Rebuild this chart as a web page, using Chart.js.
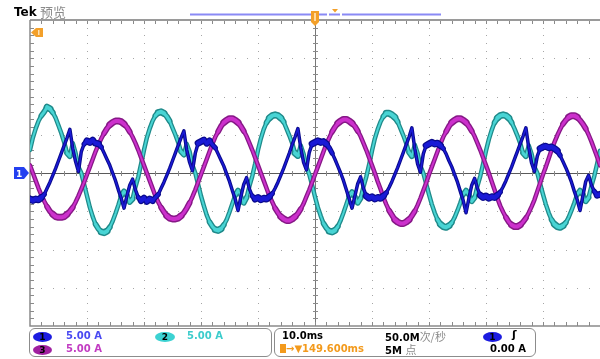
<!DOCTYPE html>
<html>
<head>
<meta charset="utf-8">
<script src="https://cdn.jsdelivr.net/npm/chart.js@4.4.1/dist/chart.umd.min.js"></script>
<style>
  html, body { margin: 0; padding: 0; background: #fff; }
  #wrap { position: relative; width: 600px; height: 359px; overflow: hidden; background: #fff; }
  #scope { position: absolute; left: 0; top: 0; }
  .t { position: absolute; white-space: nowrap; font: bold 10px 'DejaVu Sans', sans-serif; line-height: 12px; color: #000; }
  .cjk { font-family: 'Noto Sans CJK SC', sans-serif; font-weight: normal; color: #8a8a8a; font-size: 11px; }
  .box { position: absolute; box-sizing: border-box; border: 1px solid #8c8c8c; border-radius: 6px; }
  .badge { position: absolute; border-radius: 50%; text-align: center; font: bold 9px 'DejaVu Sans', sans-serif; line-height: 10px; color: #000; }
</style>
</head>
<body>
<div id="wrap">
  <canvas id="scope" width="600" height="359"></canvas>

  <div class="t" style="left:14px;top:5px;font-size:12px;line-height:14px">Tek</div>
  <div class="t cjk" style="left:40px;top:4px;font-size:13px;line-height:16px">预览</div>

  <div class="t" style="left:16px;top:169px;color:#fff;font-size:9px;line-height:10px">1</div>

  <!-- readout panel -->
  <div class="box" style="left:29px;top:328px;width:243px;height:29px"></div>
  <div class="box" style="left:274px;top:328px;width:262px;height:29px"></div>

  <div class="badge" style="left:33px;top:332px;width:19px;height:10px;background:#1c1ce0">1</div>
  <div class="t" style="left:66px;top:330px;color:#4a4af2">5.00 A</div>
  <div class="badge" style="left:155px;top:332px;width:20px;height:10px;background:#3cd2d2">2</div>
  <div class="t" style="left:187px;top:330px;color:#3ccccc">5.00 A</div>
  <div class="badge" style="left:33px;top:345px;width:19px;height:10px;background:#a020a0">3</div>
  <div class="t" style="left:66px;top:343px;color:#c23cc2">5.00 A</div>

  <div class="t" style="left:282px;top:330px">10.0ms</div>
  <div class="t" style="left:385px;top:330px">50.0M<span class="cjk">次/秒</span></div>
  <div class="badge" style="left:483px;top:332px;width:19px;height:10px;background:#1c1ce0">1</div>
  <div class="t" style="left:512px;top:329px;font-size:11px">ʃ</div>

  <div class="t" style="left:280px;top:343px;color:#f39a1c"><span style="display:inline-block;width:6px;height:9px;background:#f39a1c;vertical-align:-1px"></span>→▼149.600ms</div>
  <div class="t" style="left:385px;top:343px">5M <span class="cjk">点</span></div>
  <div class="t" style="left:490px;top:343px">0.00 A</div>
</div>

<script>
// sample spacing of the captured record (ms); 10 ms per division, 10 divisions
const stepMs = 0.5;
const divTimes = [0, 10, 20, 30, 40, 50, 60, 70, 80, 90, 100];
const divAmps = [-20, -15, -10, -5, 0, 5, 10, 15, 20];

// channel 1 (blue), amps
const ch1 = [
  -3.4,-3.6,-3.4,-3.5,-3.2,-2.8,-2.0,-1.2,-0.3,0.6,1.6,2.6,3.6,4.6,
  5.7,3.2,1.5,0.2,2.8,3.8,4.2,4.0,4.3,3.9,3.8,3.4,2.6,1.8,1.0,0.0,-1.0,-2.2,-3.3,-4.6,-3.0,-1.6,-0.8,-2.2,-3.2,-3.6,-3.3,-3.7,-3.4,-3.6,-3.2,-2.8,-2.0,-1.2,-0.3,0.6,1.6,2.6,3.6,4.6,
  5.5,3.0,1.4,0.3,2.6,3.9,4.1,4.3,3.9,4.2,3.7,3.3,2.5,1.7,0.9,-0.1,-1.1,-2.3,-3.4,-4.9,-3.1,-1.5,-0.6,-2.1,-3.0,-3.4,-3.2,-3.5,-3.3,-3.4,-3.1,-2.7,-2.0,-1.2,-0.3,0.6,1.6,2.6,3.7,4.7,
  5.8,3.3,1.4,0.4,2.7,3.8,4.0,4.2,4.0,4.1,3.8,3.3,2.6,1.8,0.9,0.0,-1.0,-2.2,-3.4,-4.6,-3.0,-1.4,-0.5,-2.0,-3.0,-3.3,-3.1,-3.4,-3.2,-3.3,-3.0,-2.6,-1.9,-1.1,-0.2,0.7,1.7,2.7,3.7,4.7,
  5.9,3.2,1.2,0.1,2.5,3.6,3.8,4.0,3.8,3.9,3.6,3.2,2.5,1.6,0.8,-0.2,-1.2,-2.4,-3.6,-5.2,-3.3,-1.6,-0.7,-2.0,-2.9,-3.2,-3.0,-3.3,-3.1,-3.2,-2.9,-2.5,-1.8,-1.0,-0.1,0.8,1.8,2.8,3.8,4.8,
  5.9,3.3,1.3,0.2,2.2,3.2,3.4,3.5,3.3,3.4,3.2,2.9,2.3,1.5,0.7,-0.2,-1.2,-2.4,-3.5,-4.9,-3.0,-1.1,-0.3,-1.6,-2.4,-2.9,-2.8
];

// channel 2 (cyan), amps
const ch2 = [
  3.0,4.6,5.8,6.8,7.5,8.0,
  8.6,8.4,7.9,7.2,6.2,5.2,4.0,2.6,2.2,3.9,2.6,0.8,0.0,-1.5,-3.0,-4.5,-5.7,-6.7,-7.3,-7.7,-7.8,-7.6,-7.1,-6.3,-5.3,-4.2,-3.0,-2.4,-2.9,-3.8,-3.4,-1.8,-0.5,1.2,3.0,4.6,5.8,6.8,7.5,7.9,
  8.0,7.8,7.4,6.8,5.9,5.0,4.0,2.8,2.4,3.8,2.8,1.0,0.0,-1.5,-3.0,-4.3,-5.5,-6.4,-7.0,-7.4,-7.5,-7.3,-6.8,-6.1,-5.1,-4.0,-2.9,-2.3,-3.0,-3.9,-3.2,-1.7,-0.4,1.2,3.0,4.5,5.7,6.6,7.2,7.5,
  7.6,7.5,7.2,6.7,5.8,4.9,3.9,2.6,2.3,3.6,2.5,0.8,-0.2,-1.6,-3.1,-4.5,-5.6,-6.6,-7.2,-7.6,-7.7,-7.5,-7.0,-6.2,-5.2,-4.1,-3.0,-2.5,-3.1,-3.9,-3.3,-1.8,-0.5,1.1,2.9,4.5,5.7,6.7,7.4,7.8,
  7.8,7.6,7.3,6.7,5.8,4.9,3.9,2.7,2.2,3.7,2.6,0.9,0.0,-1.4,-2.8,-4.1,-5.2,-6.1,-6.7,-7.0,-7.1,-6.9,-6.5,-5.8,-4.9,-3.9,-2.8,-2.3,-2.8,-3.7,-3.2,-1.7,-0.4,1.2,2.9,4.4,5.6,6.6,7.2,7.5,
  7.6,7.5,7.2,6.6,5.8,4.9,3.9,2.6,2.2,3.6,2.5,0.8,0.0,-1.4,-2.8,-4.1,-5.2,-6.1,-6.7,-7.0,-7.1,-6.9,-6.5,-5.8,-4.9,-3.9,-2.8,-2.3,-2.8,-3.7,-3.2,-1.7,-0.4,1.2,2.9
];

// channel 3 (magenta), amps
const ch3 = [
  1.0,0.0,-1.0,-2.0,-2.9,-3.7,-4.4,-5.0,-5.4,-5.7,-5.8,-5.8,-5.7,-5.4,-5.0,-4.5,-3.8,-3.0,-2.1,-1.2,-0.2,0.8,1.8,2.8,3.7,4.5,5.2,5.8,6.3,6.6,6.8,6.8,6.7,6.4,6.0,5.4,4.7,3.9,3.0,2.0,
  1.0,0.0,-1.0,-2.0,-3.0,-3.8,-4.5,-5.1,-5.6,-5.9,-6.0,-6.0,-5.9,-5.6,-5.2,-4.6,-3.9,-3.1,-2.2,-1.2,-0.2,0.8,1.8,2.8,3.8,4.7,5.4,6.1,6.6,6.9,7.1,7.1,6.9,6.6,6.1,5.5,4.8,3.9,3.0,2.0,
  1.0,0.0,-1.0,-2.0,-3.0,-3.8,-4.6,-5.2,-5.7,-6.0,-6.2,-6.2,-6.0,-5.7,-5.3,-4.7,-4.0,-3.1,-2.2,-1.2,-0.2,0.8,1.8,2.8,3.8,4.6,5.4,6.0,6.5,6.8,7.0,7.0,6.8,6.5,6.1,5.5,4.8,3.9,3.0,2.0,
  1.0,0.0,-1.1,-2.1,-3.2,-4.1,-4.9,-5.5,-6.1,-6.4,-6.6,-6.6,-6.4,-6.1,-5.6,-5.0,-4.2,-3.3,-2.3,-1.3,-0.2,0.8,1.8,2.8,3.8,4.7,5.4,6.1,6.6,6.9,7.1,7.1,6.9,6.6,6.1,5.5,4.8,3.9,3.0,2.0,
  1.0,0.0,-1.1,-2.2,-3.3,-4.3,-5.1,-5.8,-6.4,-6.8,-7.0,-7.0,-6.8,-6.4,-5.9,-5.2,-4.4,-3.5,-2.4,-1.3,-0.2,0.8,1.9,3.0,4.0,4.9,5.7,6.4,6.9,7.3,7.5,7.5,7.3,6.9,6.4,5.8,5.0,4.1,3.1,2.1,
  1.0
];

const pts = vals => vals.map((v, i) => ({ x: i * stepMs, y: v }));

// the noise band on a scope trace reads thicker where the trace is flat
function trace(label, vals, color, width, flatWidth, order) {
  return {
    label, data: pts(vals), borderColor: color, borderWidth: width,
    pointRadius: 0, fill: false, tension: 0, order,
    borderJoinStyle: 'round', borderCapStyle: 'round',
    segment: {
      borderWidth: c => {
        const d = Math.abs(c.p1.parsed.y - c.p0.parsed.y);
        return d < 0.35 ? flatWidth : d < 0.7 ? (width + flatWidth) / 2 : width;
      }
    }
  };
}

// graticule + scope markers
const scopeChrome = {
  id: 'scopeChrome',
  beforeDatasetsDraw(chart) {
    const { ctx, chartArea: a, scales: { x, y } } = chart;
    const px = v => Math.round(x.getPixelForValue(v));
    const py = v => Math.round(y.getPixelForValue(v));
    const xMinor = (divTimes[1] - divTimes[0]) / 5;
    const yMinor = (divAmps[1] - divAmps[0]) / 5;
    ctx.save();

    // dotted division lines
    ctx.fillStyle = '#a6a6a6';
    divTimes.slice(1, -1).forEach(t => {
      if (t === 50) return;
      for (let v = divAmps[0] + yMinor; v < divAmps[divAmps.length - 1]; v += yMinor) {
        ctx.fillRect(px(t), py(v), 1, 1);
      }
    });
    divAmps.slice(1, -1).forEach(v => {
      if (v === 0) return;
      for (let t = divTimes[0] + xMinor; t < divTimes[divTimes.length - 1]; t += xMinor) {
        ctx.fillRect(px(t), py(v), 1, 1);
      }
    });

    // center cross
    ctx.strokeStyle = '#5a5a5a';
    ctx.lineWidth = 1;
    ctx.beginPath();
    ctx.moveTo(a.left, py(0) + 0.5); ctx.lineTo(a.right, py(0) + 0.5);
    ctx.stroke();
    ctx.strokeStyle = '#777';
    ctx.beginPath();
    ctx.moveTo(px(50) + 0.5, a.top); ctx.lineTo(px(50) + 0.5, a.bottom);
    ctx.stroke();

    // minor ticks on center cross and borders
    ctx.strokeStyle = '#8a8a8a';
    ctx.beginPath();
    for (let t = divTimes[0] + xMinor; t < 100; t += xMinor) {
      const xx = px(t) + 0.5;
      ctx.moveTo(xx, py(0) - 2); ctx.lineTo(xx, py(0) + 3);
      ctx.moveTo(xx, a.top); ctx.lineTo(xx, a.top + 4);
      ctx.moveTo(xx, a.bottom); ctx.lineTo(xx, a.bottom - 4);
    }
    for (let v = divAmps[0] + yMinor; v < 20; v += yMinor) {
      const yy = py(v) + 0.5;
      ctx.moveTo(px(50) - 2, yy); ctx.lineTo(px(50) + 3, yy);
      ctx.moveTo(a.left, yy); ctx.lineTo(a.left + 4, yy);
    }
    ctx.stroke();

    // frame
    ctx.strokeStyle = '#9a9a9a';
    ctx.lineWidth = 2;
    ctx.beginPath();
    ctx.moveTo(a.left, a.top); ctx.lineTo(a.right, a.top);
    ctx.stroke();
    ctx.lineWidth = 1.5;
    ctx.strokeStyle = '#8a8a8a';
    ctx.beginPath();
    ctx.moveTo(a.left, a.top); ctx.lineTo(a.left, a.bottom); ctx.lineTo(a.right, a.bottom);
    ctx.stroke();
    ctx.restore();
  },
  afterDraw(chart) {
    const { ctx, chartArea: a, scales: { x, y } } = chart;
    ctx.save();

    // record bar at top
    ctx.strokeStyle = '#8a8af5';
    ctx.lineWidth = 2;
    ctx.beginPath();
    ctx.moveTo(190, 14.5); ctx.lineTo(327, 14.5);
    ctx.moveTo(329, 14.5); ctx.lineTo(340, 14.5);
    ctx.moveTo(342, 14.5); ctx.lineTo(441, 14.5);
    ctx.stroke();

    // trigger position marker
    const tx = x.getPixelForValue(50);
    ctx.fillStyle = '#f3a02a';
    ctx.beginPath();
    ctx.moveTo(tx - 4, 11); ctx.lineTo(tx + 4, 11); ctx.lineTo(tx + 4, 22);
    ctx.lineTo(tx, 26); ctx.lineTo(tx - 4, 22); ctx.closePath();
    ctx.fill();
    ctx.fillStyle = '#ffd9a0';
    ctx.fillRect(tx - 1, 13, 2, 8);
    ctx.fillStyle = '#f3a02a';
    ctx.beginPath();
    ctx.moveTo(332, 9); ctx.lineTo(338, 9); ctx.lineTo(335, 12.5); ctx.closePath();
    ctx.fill();

    // trigger level marker (top left)
    ctx.beginPath();
    ctx.moveTo(a.left + 1, 32.5); ctx.lineTo(a.left + 6, 28); ctx.lineTo(a.left + 13, 28);
    ctx.lineTo(a.left + 13, 37); ctx.lineTo(a.left + 6, 37); ctx.closePath();
    ctx.fill();
    ctx.fillStyle = '#ffe0b0';
    ctx.fillRect(a.left + 8, 30, 1.5, 5);

    // channel 1 ground marker
    const gy = y.getPixelForValue(0);
    ctx.fillStyle = '#2440f0';
    ctx.beginPath();
    ctx.moveTo(14, gy - 6); ctx.lineTo(24, gy - 6); ctx.lineTo(29, gy);
    ctx.lineTo(24, gy + 6); ctx.lineTo(14, gy + 6); ctx.closePath();
    ctx.fill();
    ctx.restore();
  }
};

new Chart(document.getElementById('scope'), {
  type: 'line',
  data: {
    datasets: [
      trace('ch1', ch1, '#1a1ad6', 1.5, 4.5, 0),
      trace('ch1 edge', ch1, '#0a0a8c', 3.5, 7, 1),
      trace('ch3', ch3, '#cc30cc', 2, 4, 2),
      trace('ch3 edge', ch3, '#861886', 4.5, 7, 3),
      trace('ch2', ch2, '#48d4d4', 2, 4, 4),
      trace('ch2 edge', ch2, '#1f8a8a', 4.5, 7, 5)
    ]
  },
  options: {
    responsive: false,
    animation: false,
    devicePixelRatio: 1,
    layout: { padding: { left: 30, right: 0, top: 20, bottom: 33 } },
    plugins: { legend: { display: false }, tooltip: { enabled: false } },
    scales: {
      x: { type: 'linear', min: 0, max: 100, display: false },
      y: { type: 'linear', min: -20, max: 20, display: false }
    }
  },
  plugins: [scopeChrome]
});
</script>
</body>
</html>
